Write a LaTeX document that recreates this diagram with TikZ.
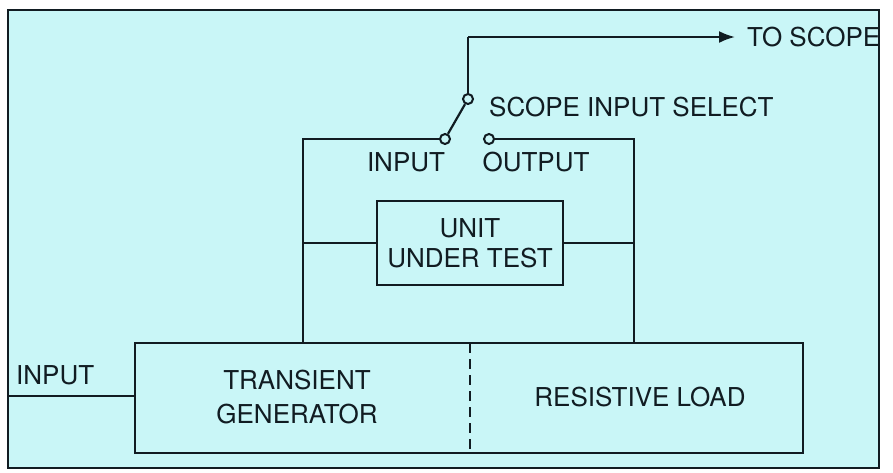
\documentclass[tikz,border=0pt]{standalone}
\usepackage{fontspec}
\setmainfont{TeX Gyre Heros}
\usetikzlibrary{arrows.meta}
\definecolor{bg}{HTML}{C9F6F7}
\definecolor{ink}{HTML}{111C22}
\begin{document}
\begin{tikzpicture}[x=0.5pt,y=-0.5pt, line width=1.2pt,
  lbl/.style={text=ink, font=\fontsize{13}{15}\selectfont, inner sep=0pt},
  box/.style={draw=ink, line width=1.2pt, inner sep=0pt, text=ink, font=\fontsize{13}{15}\selectfont, align=center},
  wire/.style={draw=ink, line width=1.1pt},
  contact/.style={circle, draw=ink, fill=bg, line width=1pt, minimum size=5pt, inner sep=0pt}]
\useasboundingbox (0,0) rectangle (893,472);
\fill[white] (0,0) rectangle (893,472);
\draw[draw=ink, fill=bg, line width=1.3pt] (8,10) rectangle (879,468);
% boxes
\node[box, minimum width=334pt, minimum height=55pt] (big) at (469,398) {};
\node[box, minimum width=93pt, minimum height=42pt] (uut) at (470,243) {UNIT\\UNDER TEST};
\node[lbl, align=center] (tg) at (297,397) {TRANSIENT\\[2pt]GENERATOR};
\node[lbl] (rl) at (640,397) {RESISTIVE LOAD};
\coordinate (dtop) at (470,343);
\coordinate (dbot) at (470,453);
\draw[wire, dash pattern=on 5pt off 3pt] (dtop) -- (dbot);
% input
\coordinate (inL) at (8,396);
\node[lbl, anchor=west] (intext) at (15,375) {INPUT};
\draw[wire] (inL) -- (inL -| big.west);
% switch
\node[contact] (cin) at (445,139) {};
\node[contact] (cout) at (489,139) {};
\node[contact] (piv) at (468,99) {};
\coordinate (lv) at (303,343);
\coordinate (rv) at (634,343);
\coordinate (top) at (468,37);
\coordinate (tip) at (735,37);
\draw[wire] (lv) |- (cin.west);
\draw[wire] (cout.east) -| (rv);
\draw[wire] (cin) -- (piv);
\draw[wire] (piv.north) -- (top);
\draw[wire, -{Latex[length=8pt,width=6pt]}] (top) -- (tip);
\draw[wire] (uut.west) -- (uut.west -| lv);
\draw[wire] (uut.east) -- (uut.east -| rv);
% labels
\node[lbl, anchor=west] (toscope) at (746,37) {TO SCOPE};
\node[lbl, anchor=west] (sis) at (488,107) {SCOPE INPUT SELECT};
\node[lbl] (inlab) at (406,162) {INPUT};
\node[lbl] (outlab) at (536,162) {OUTPUT};
\end{tikzpicture}
\end{document}
